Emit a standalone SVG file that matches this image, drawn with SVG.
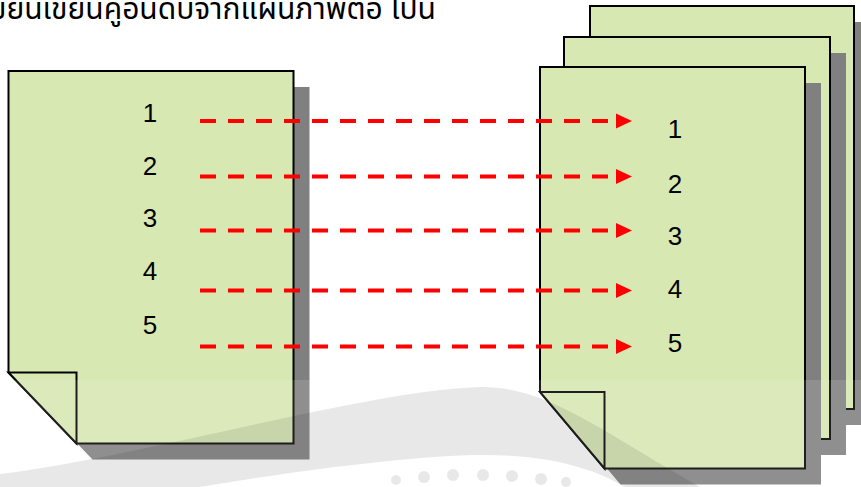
<svg xmlns="http://www.w3.org/2000/svg" width="861" height="487" viewBox="0 0 861 487">
<style>
.doc{fill:#d8e8b2;stroke:#000;stroke-width:2;stroke-linejoin:miter}
.shd{fill:#808080}
.num{font-family:"Liberation Sans",Arial,sans-serif;font-size:26px;fill:#000;text-anchor:middle}
.ttl{font-family:"Noto Sans Thai","Tahoma","Leelawadee UI","DejaVu Sans",sans-serif;font-size:30px;fill:#000}
.dash{stroke:#ff0000;stroke-width:4;stroke-dasharray:16 12;fill:none}
.head{fill:#ff0000}
.wm{fill:#000;fill-opacity:0.09}
</style>
<rect width="861" height="487" fill="#fff"/>
<text class="ttl" x="-10" y="19">ขยนเขยนคูอนดบจากแผนภาพตอ ไปน</text>
<g id="left-doc">
<path class="shd" d="M24.5,87 H309.5 V459.5 H92.5 L24.5,388.5 Z"/>
<path class="doc" d="M8.5,71 H293.5 V443.5 H76.5 L8.5,372.5 Z"/>
<path class="doc" d="M8.5,372.5 H76.5 V443.5 Z"/>
<text class="num" x="150" y="121.5">1</text>
<text class="num" x="150" y="175">2</text>
<text class="num" x="150" y="226.5">3</text>
<text class="num" x="150" y="280">4</text>
<text class="num" x="150" y="334">5</text>
</g>
<g id="right-docs">
<path class="shd" d="M606,22 H870 V425 H670.5 L606,349 Z"/>
<path class="doc" d="M590,6 H854 V409 H654.5 L590,333 Z"/>
<path class="shd" d="M580,53 H846 V455 H644.5 L580,379 Z"/>
<path class="doc" d="M564,37 H830 V439 H628.5 L564,363 Z"/>
<path class="shd" d="M556,83 H821 V484.5 H620.5 L556,408 Z"/>
<path class="doc" d="M540,67 H805 V468.5 H604.5 L540,392 Z"/>
<path class="doc" d="M540,392 H604.5 V468.5 Z"/>
<text class="num" x="675" y="138">1</text>
<text class="num" x="675" y="192.5">2</text>
<text class="num" x="675" y="245">3</text>
<text class="num" x="675" y="297.5">4</text>
<text class="num" x="675" y="351.5">5</text>
</g>
<g id="connectors">
<line class="dash" x1="200" y1="121" x2="608" y2="121"/>
<polygon class="head" points="616,113.5 632,121 616,128.5"/>
<line class="dash" x1="200" y1="176.5" x2="608" y2="176.5"/>
<polygon class="head" points="616,169 632,176.5 616,184"/>
<line class="dash" x1="200" y1="230.5" x2="608" y2="230.5"/>
<polygon class="head" points="616,223 632,230.5 616,238"/>
<line class="dash" x1="200" y1="290.5" x2="608" y2="290.5"/>
<polygon class="head" points="616,283 632,290.5 616,298"/>
<line class="dash" x1="200" y1="346.5" x2="608" y2="346.5"/>
<polygon class="head" points="616,339 632,346.5 616,354"/>
</g>
<g id="watermark">
<rect x="0" y="380" width="861" height="107" fill="#fff" fill-opacity="0.12"/>
<path class="wm" d="M0,474 C150,455 360,392 478,387 C545,385 600,430 700,487 L625,487 C590,466 545,455 483,455 C420,455 300,470 200,487 L0,487 Z"/>
<circle class="wm" cx="396" cy="480" r="5"/>
<circle class="wm" cx="424" cy="477" r="6"/>
<circle class="wm" cx="453" cy="475" r="6"/>
<circle class="wm" cx="483" cy="475" r="6"/>
<circle class="wm" cx="512" cy="476" r="6"/>
<circle class="wm" cx="541" cy="479" r="6"/>
<circle class="wm" cx="566" cy="482" r="5"/>
</g>
</svg>
